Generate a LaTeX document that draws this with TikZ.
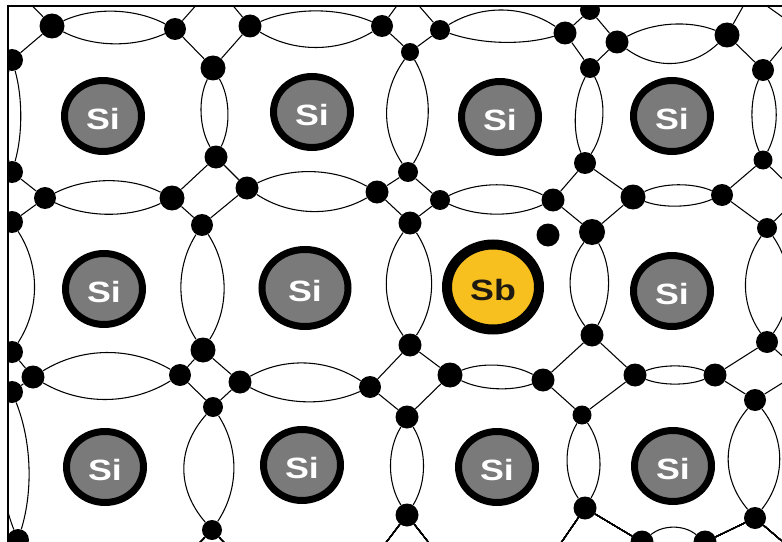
\documentclass[tikz,border=0pt]{standalone}
\usepackage{fontspec}
\usepackage{graphicx}
\usetikzlibrary{calc,shapes.geometric}
\newfontfamily\atomfont{Liberation Sans}
\definecolor{siGray}{RGB}{122,122,122}
\definecolor{sbGold}{RGB}{247,192,30}
\definecolor{sbText}{RGB}{30,26,18}
\pgfdeclarelayer{bonds}
\pgfsetlayers{bonds,main}

% shared electron pair: two arcs between two electrons,
% #3 = bulge to the left of A->B (up / right), #4 = bulge to the other side
\newcommand\bondlens[4]{%
  \draw[bondline] (#1)
    .. controls ($(#1)!0.3333!(#2)!#3pt!90:(#2)$) and ($(#1)!0.6667!(#2)!#3pt!90:(#2)$) .. (#2)
    .. controls ($(#2)!0.3333!(#1)!#4pt!90:(#1)$) and ($(#2)!0.6667!(#1)!#4pt!90:(#1)$) .. (#1);}
% the four electrons that meet at a corner of the lattice
\newcommand\cornerlinks[1]{%
  \draw[bondline] (#1L) -- (#1T) -- (#1R) -- (#1B) -- (#1L);}

\tikzset{
  bondline/.style={line width=0.8pt, black},
  electron/.style={circle, fill=black, inner sep=0pt},
  atomtext/.style={font=\atomfont\bfseries\fontsize{22pt}{22pt}\selectfont},
  siatom/.style={ellipse, draw=black, line width=5.25pt, fill=siGray,
    minimum width=57.75pt, minimum height=53.25pt, inner sep=0pt,
    text=white, atomtext},
  sbatom/.style={ellipse, draw=black, line width=7.5pt, fill=sbGold,
    minimum width=69pt, minimum height=63.75pt, inner sep=0pt,
    text=sbText, atomtext},
}
% element symbol, set a little wide and a little low
\newcommand\wide[1]{\raisebox{-2pt}[\height][\depth]{\scalebox{1.22}[1]{#1}}}

\begin{document}
\begin{tikzpicture}[x=0.75pt, y=-0.75pt]
\useasboundingbox (0,0) rectangle (782,542);

% valence electrons
\begin{scope}
  \clip (8.5,7) rectangle (782,542);
  \foreach \n/\x/\y/\d in {
    c00T/12/-15/22, c00R/52/26/25, c00B/12/60/22, c00L/-28/28/22,
    c10L/175/29/22, c10T/215/-16/22, c10R/250/26/23, c10B/213/68/25,
    c20L/382/26/22, c20T/407/-8/22, c20R/440/30/20, c20B/410/52/18,
    c30L/565/33/23, c30T/590/10/20, c30R/617/42/23, c30B/590/68/20,
    c40L/727/35/25, c40T/750/-6/22, c40R/798/28/22, c40B/763/70/22,
    c01L/-25/198/22, c01T/12/172/22, c01R/45/198/22, c01B/12/222/22,
    c11L/172/198/25, c11T/216/157/23, c11R/247/188/23, c11B/202/225/22,
    c21L/377/192/23, c21T/408/172/20, c21R/440/200/20, c21B/410/223/23,
    c31L/553/200/23, c31T/585/163/22, c31R/633/197/25, c31B/592/232/26,
    c41L/722/195/22, c41T/763/160/19, c41R/800/196/22, c41B/767/228/20,
    c02L/-15/375/22, c02T/12/352/22, c02R/33/377/23, c02B/12/392/22,
    c12L/180/375/22, c12T/203/350/25, c12R/240/382/23, c12B/213/407/20,
    c22L/370/387/22, c22T/410/345/23, c22R/450/375/25, c22B/407/417/23,
    c32L/543/380/23, c32T/592/335/23, c32R/635/375/23, c32B/582/415/19,
    c42L/715/375/23, c42T/767/342/22, c42R/800/372/22, c42B/755/400/22,
    c03L/-20/565/22, c03T/18/540/22, c03R/50/566/22,
    c13L/180/563/22, c13T/212/530/20, c13R/245/564/22,
    c23L/375/557/22, c23T/407/515/23, c23R/440/557/22,
    c33L/552/556/22, c33T/585/508/23, c33R/642/542/23,
    c43L/705/542/23, c43T/755/518/22, c43R/790/548/22}
    \node[electron, minimum size=\d*0.75pt] (\n) at (\x,\y) {};
  % free electron donated by the antimony atom
  \node[electron, minimum size=17.25pt] (free) at (548,235) {};
\end{scope}

% covalent bonds
\begin{pgfonlayer}{bonds}
\begin{scope}
  \clip (8.5,7) rectangle (782,542);
  % horizontal lenses
  \bondlens{c00R}{c10L}{15}{15}
  \bondlens{c10R}{c20L}{14}{20}
  \bondlens{c20R}{c30L}{20}{10}
  \bondlens{c30R}{c40L}{13}{23}
  \bondlens{c01R}{c11L}{16}{15}
  \bondlens{c11R}{c21L}{17}{20}
  \bondlens{c21R}{c31L}{14}{13}
  \bondlens{c31R}{c41L}{10}{9}
  \bondlens{c02R}{c12L}{22}{22}
  \bondlens{c12R}{c22L}{20}{16}
  \bondlens{c22R}{c32L}{11}{10}
  \bondlens{c32R}{c42L}{8}{8}
  \bondlens{c33R}{c43L}{13}{13}
  % vertical lenses
  \bondlens{c00B}{c01T}{8}{8}
  \bondlens{c01B}{c02T}{21}{21}
  \bondlens{c02B}{c03T}{13}{13}
  \bondlens{c10B}{c11T}{12}{12}
  \bondlens{c11B}{c12T}{20}{20}
  \bondlens{c12B}{c13T}{20}{27}
  \bondlens{c20B}{c21T}{18}{21}
  \bondlens{c21B}{c22T}{20}{22}
  \bondlens{c22B}{c23T}{15}{15}
  \bondlens{c30B}{c31T}{14}{11}
  \bondlens{c31B}{c32T}{15}{20}
  \bondlens{c32B}{c33T}{15}{15}
  \bondlens{c40B}{c41T}{12}{10}
  \bondlens{c41B}{c42T}{20}{20}
  \bondlens{c42B}{c43T}{23}{25}
  % corner links
  \foreach \c in {c00,c10,c20,c30,c40,c01,c11,c21,c31,c41,c02,c12,c22,c32,c42}
    \cornerlinks{\c}
  \foreach \c in {c03,c13,c23,c33,c43}
    \draw[bondline] (\c L) -- (\c T) -- (\c R);
\end{scope}
\end{pgfonlayer}

% atoms
\node[siatom] (si1) at (103,116) {\wide{Si}};
\node[siatom] (si2) at (312,112) {\wide{Si}};
\node[siatom] (si3) at (500,117) {\wide{Si}};
\node[siatom] (si4) at (672,116) {\wide{Si}};
\node[siatom] (si5) at (104,289) {\wide{Si}};
\node[siatom, minimum width=64.5pt, minimum height=57.75pt] (si6) at (305,288) {\wide{Si}};
\node[sbatom] (sb) at (493,287) {\wide{Sb}};
\node[siatom] (si8) at (672,291) {\wide{Si}};
\node[siatom] (si9) at (105,467) {\wide{Si}};
\node[siatom] (si10) at (302,465) {\wide{Si}};
\node[siatom] (si11) at (497,467) {\wide{Si}};
\node[siatom] (si12) at (673,466) {\wide{Si}};

% frame
\draw[line width=1.5pt] (7.7,542) -- (7.7,6) -- (782,6);
\end{tikzpicture}
\end{document}
